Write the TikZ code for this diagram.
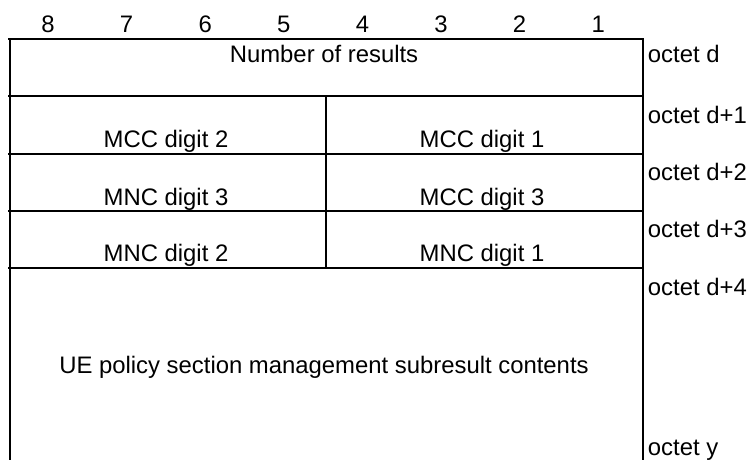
\documentclass[tikz,border=0pt]{standalone}
\usepackage{fontspec}
\setmainfont{Liberation Sans}
\usetikzlibrary{positioning}
\definecolor{ink}{RGB}{0,0,0}

\begin{document}
\begin{tikzpicture}[x=0.75pt, y=-0.75pt, line width=1.4pt, draw=ink,
    lbl/.style={inner sep=0pt, anchor=base, text=ink, font=\fontsize{17.9}{21}\selectfont},
    oct/.style={lbl, anchor=base west}]
  \useasboundingbox (0,0) rectangle (749,460);
  % bit numbers
  \foreach \b [count=\i] in {8,7,...,1}
    \node[lbl] (bit\b) at ({48+78.6*(\i-1)},33) {\b};
  % frame
  \draw (8,39) -- (643,39) -- (643,460);
  \draw (10,39) -- (10,460);
  \foreach \y in {96,154,211,268}
    \draw (8,\y) -- (643,\y);
  \draw (326,96) -- (326,268);
  % fields
  \node[lbl] (nres) at (324,63) {Number of results};
  \node[lbl] (mcc2) at (166,147) {MCC digit 2};
  \node[lbl] (mcc1) at (482,147) {MCC digit 1};
  \node[lbl] (mnc3) at (166,205) {MNC digit 3};
  \node[lbl] (mcc3) at (482,205) {MCC digit 3};
  \node[lbl] (mnc2) at (166,261) {MNC digit 2};
  \node[lbl] (mnc1) at (482,261) {MNC digit 1};
  \node[lbl] (subres) at (324,373) {UE policy section management subresult contents};
  % octets
  \node[oct] (octd) at (647,63) {octet d};
  \node[oct] (octd1) at (647,123) {octet d+1};
  \node[oct] (octd2) at (647,180) {octet d+2};
  \node[oct] (octd3) at (647,237) {octet d+3};
  \node[oct] (octd4) at (647,295) {octet d+4};
  \node[oct] (octy) at (647,455) {octet y};
\end{tikzpicture}
\end{document}
